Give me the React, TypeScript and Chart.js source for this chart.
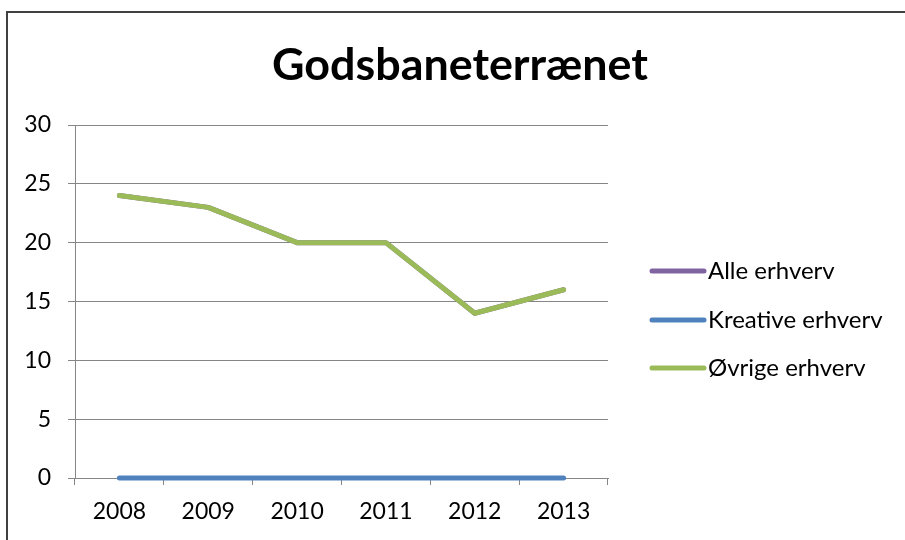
import React, { useEffect, useRef } from "react";
import { Chart, registerables } from "chart.js";

Chart.register(...registerables);

const chartTitle = "Godsbaneterrænet";
const years = ["2008", "2009", "2010", "2011", "2012", "2013"];
const alleErhverv = [24, 23, 20, 20, 14, 16];
const kreativeErhverv = [0, 0, 0, 0, 0, 0];
const ovrigeErhverv = [24, 23, 20, 20, 14, 16];
const seriesLabels = ["Alle erhverv", "Kreative erhverv", "Øvrige erhverv"];
const seriesColors = ["#8064A2", "#4F81BD", "#9BBB59"];

const FONT = "Lato, 'Open Sans', sans-serif";

const decorPlugin = {
  id: "decor",
  beforeDraw(chart: any) {
    const ctx = chart.ctx;
    ctx.save();
    ctx.fillStyle = "#ffffff";
    ctx.fillRect(0, 0, chart.width, chart.height);
    ctx.strokeStyle = "#404040";
    ctx.lineWidth = 2;
    ctx.strokeRect(7, 12, chart.width + 20, chart.height + 20);
    ctx.restore();
  },
  afterDraw(chart: any) {
    const ctx = chart.ctx;
    ctx.save();
    // title
    ctx.fillStyle = "#000000";
    ctx.font = `bold 40px ${FONT}`;
    const w = ctx.measureText(chartTitle).width;
    const size = (40 * 376) / w;
    ctx.font = `bold ${size}px ${FONT}`;
    ctx.textAlign = "center";
    ctx.textBaseline = "alphabetic";
    ctx.fillText(chartTitle, 460, 80);
    // legend
    const ys = [271, 320, 368];
    chart.data.datasets.forEach((ds: any, i: number) => {
      ctx.strokeStyle = ds.borderColor;
      ctx.lineWidth = 5;
      ctx.lineCap = "round";
      ctx.beginPath();
      ctx.moveTo(652, ys[i]);
      ctx.lineTo(704, ys[i]);
      ctx.stroke();
      ctx.fillStyle = "#000000";
      ctx.font = `24px ${FONT}`;
      ctx.textAlign = "left";
      ctx.textBaseline = "middle";
      ctx.fillText(ds.label, 708, ys[i]);
    });
    ctx.restore();
  },
};

export default function App() {
  const ref = useRef<HTMLCanvasElement>(null);
  useEffect(() => {
    if (!ref.current) return;
    const series = [alleErhverv, kreativeErhverv, ovrigeErhverv];
    const chart = new Chart(ref.current, {
      type: "line",
      data: {
        labels: years,
        datasets: series.map((d, i) => ({
          label: seriesLabels[i],
          data: d,
          borderColor: seriesColors[i],
          backgroundColor: seriesColors[i],
          borderWidth: 5,
          borderCapStyle: "round",
          borderJoinStyle: "round",
          pointRadius: 0,
          tension: 0,
          fill: false,
          clip: false,
          order: i === 2 ? 0 : i === 1 ? 1 : 2,
        })),
      },
      options: {
        responsive: false,
        animation: false,
        devicePixelRatio: 1,
        layout: { padding: { left: 0, top: 125, right: 297, bottom: 0 } },
        plugins: {
          legend: { display: false },
          title: { display: false },
          tooltip: { enabled: false },
        },
        scales: {
          x: {
            offset: true,
            grid: {
              display: true,
              offset: true,
              drawOnChartArea: false,
              drawTicks: true,
              tickLength: 7,
              color: "#868686",
            },
            border: { display: true, color: "#868686", width: 1 },
            ticks: {
              color: "#000000",
              font: { family: FONT, size: 23 },
              padding: 13,
              maxRotation: 0,
            },
            afterFit(scale: any) {
              scale.height = 62;
            },
          },
          y: {
            min: 0,
            max: 30,
            ticks: {
              stepSize: 5,
              color: "#000000",
              font: { family: FONT, size: 23 },
              padding: 17,
            },
            grid: {
              color: "#868686",
              tickLength: 7,
              drawTicks: true,
            },
            border: { display: true, color: "#868686", width: 1 },
            afterFit(scale: any) {
              scale.width = 75;
            },
          },
        },
      },
      plugins: [decorPlugin],
    });
    return () => chart.destroy();
  }, []);
  return (
    <div style={{ position: "absolute", left: 0, top: 0, width: 905, height: 540 }}>
      <canvas ref={ref} width={905} height={540} />
    </div>
  );
}
